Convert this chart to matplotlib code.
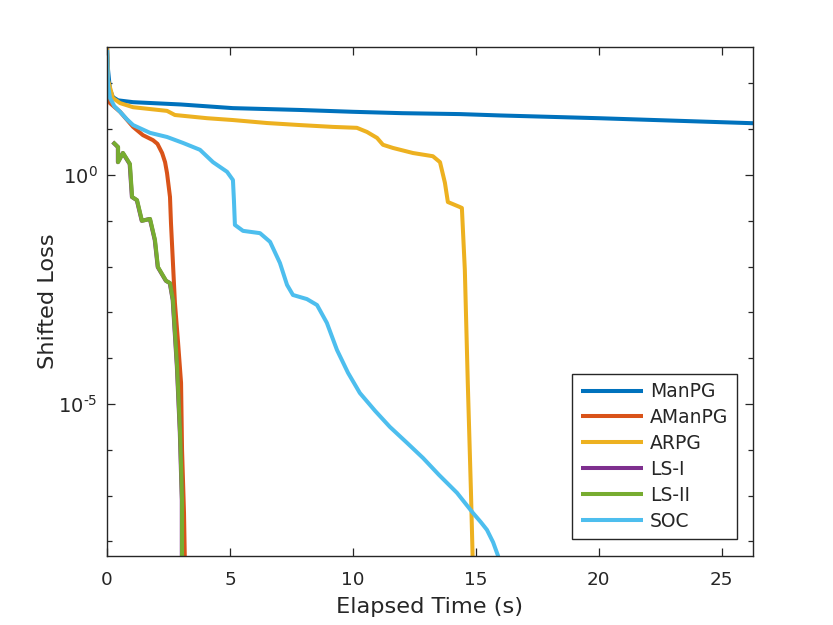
import numpy as np
import matplotlib
matplotlib.use('Agg')
import matplotlib.pyplot as plt
from matplotlib.ticker import NullFormatter

# log10 of shifted loss
manpg_t = [0, 0.04, 0.12, 0.24, 0.45, 1.06, 3.0, 5.12, 7.85, 10.0, 12.0, 14.35, 16.0, 20.0, 24.0, 26.3]
manpg_y = [2.79, 2.3, 1.86, 1.7, 1.63, 1.59, 1.54, 1.46, 1.42, 1.38, 1.35, 1.33, 1.3, 1.24, 1.17, 1.13]

amanpg_t = [0, 0.04, 0.12, 0.53, 1.06, 1.46, 1.87, 2.05, 2.24, 2.36, 2.44, 2.56, 2.60, 2.68, 2.76, 2.89, 3.01,
            3.05, 3.13, 3.17]
amanpg_y = [2.79, 1.86, 1.57, 1.38, 1.05, 0.87, 0.76, 0.68, 0.48, 0.28, 0.04, -0.48, -1.05, -1.92, -2.79, -3.67,
            -4.54, -6.0, -7.38, -8.6]

arpg_t = [0, 0.04, 0.24, 0.53, 1.06, 2.44, 2.76, 4.07, 5.12, 6.5, 7.85, 9.19, 10.16, 10.57, 10.98, 11.22,
          11.63, 12.44, 13.25, 13.54, 13.74, 13.86, 14.35, 14.43, 14.55, 14.67, 14.80, 14.88]
arpg_y = [2.79, 2.07, 1.68, 1.57, 1.48, 1.40, 1.31, 1.24, 1.20, 1.135, 1.09, 1.05, 1.03, 0.94, 0.81, 0.66,
          0.59, 0.48, 0.41, 0.28, -0.17, -0.59, -0.70, -0.72, -2.07, -4.54, -6.94, -8.6]

lsi_t = [0.23, 0.44, 0.44, 0.64, 0.92, 1.01, 1.21, 1.41, 1.74, 1.94, 2.06, 2.39, 2.55, 2.67, 2.84, 2.96, 3.04, 3.04]
lsi_y = [0.72, 0.61, 0.28, 0.48, 0.24, -0.48, -0.55, -1.0, -0.96, -1.42, -2.01, -2.31, -2.36, -2.73, -4.19, -5.63, -7.10, -8.6]

lsii_t = [0.24, 0.45, 0.45, 0.65, 0.93, 1.02, 1.22, 1.42, 1.75, 1.95, 2.07, 2.40, 2.56, 2.68, 2.85, 2.97, 3.05, 3.05]
lsii_y = [0.72, 0.61, 0.28, 0.48, 0.24, -0.48, -0.55, -1.0, -0.96, -1.42, -2.01, -2.31, -2.36, -2.73, -4.19, -5.63, -7.10, -8.6]

soc_t = [0, 0.04, 0.12, 0.30, 0.53, 0.80, 1.06, 1.75, 2.44, 3.09, 3.78, 4.31, 4.88, 5.12, 5.16, 5.20, 5.53,
         6.22, 6.63, 7.03, 7.32, 7.56, 8.13, 8.54, 8.94, 9.35, 9.80, 10.28, 10.90, 11.50, 12.20, 12.85, 13.50,
         14.23, 14.88, 15.20, 15.45, 15.70, 15.89, 16.06]
soc_y = [2.73, 1.97, 1.68, 1.50, 1.38, 1.22, 1.09, 0.92, 0.83, 0.70, 0.55, 0.28, 0.07, -0.11, -0.55, -1.09, -1.22,
         -1.27, -1.46, -1.92, -2.40, -2.62, -2.71, -2.84, -3.23, -3.82, -4.32, -4.76, -5.15, -5.50, -5.85, -6.18, -6.55,
         -6.94, -7.38, -7.58, -7.75, -8.02, -8.30, -8.6]

series = [
    ('ManPG', manpg_t, manpg_y, '#0072BD'),
    ('AManPG', amanpg_t, amanpg_y, '#D95319'),
    ('ARPG', arpg_t, arpg_y, '#EDB120'),
    ('LS-I', lsi_t, lsi_y, '#7E2F8E'),
    ('LS-II', lsii_t, lsii_y, '#77AC30'),
    ('SOC', soc_t, soc_y, '#4DBEEE'),
]

y_major = [1e-5, 1e0]
y_major_labels = [r'$\mathdefault{10^{\text{-}5}}$', r'$\mathdefault{10^{0}}$']

plt.rcParams['font.family'] = 'DejaVu Sans'
fig = plt.figure(figsize=(8.33, 6.25), dpi=100)
ax = fig.add_axes([0.1285, 0.1104, 0.7755, 0.8144])

for name, t, y, c in series:
    ax.plot(t, 10.0 ** np.array(y), color=c, lw=2.9, label=name,
            solid_joinstyle='round', solid_capstyle='butt')

ax.set_yscale('log')
ax.set_xlim(0, 26.27)
ax.set_ylim(10 ** -8.32, 10 ** 2.795)
ax.set_xticks([0, 5, 10, 15, 20, 25])
ax.set_yticks(y_major, y_major_labels)
ax.set_yticks([10.0 ** k for k in range(-8, 3)], minor=True)
ax.yaxis.set_minor_formatter(NullFormatter())

dark = '#262626'
for s in ax.spines.values():
    s.set_color(dark)
    s.set_linewidth(1.0)
ax.tick_params(which='both', direction='in', top=True, right=True, colors=dark)
ax.tick_params(which='major', length=6, width=0.9)
ax.tick_params(which='minor', length=3.5, width=0.9)
ax.tick_params(axis='x', which='major', pad=10.5, labelsize=13.2)
ax.tick_params(axis='y', which='major', pad=7, labelsize=14)

ax.set_xlabel('Elapsed Time (s)', fontsize=16.2, color=dark, labelpad=6)
ax.set_ylabel('Shifted Loss', fontsize=16.2, color=dark, labelpad=0)

leg = ax.legend(loc='lower right', bbox_to_anchor=(0.975, 0.033), borderaxespad=0,
                fontsize=13.5, handlelength=3.3, handletextpad=0.4, labelspacing=0.37,
                fancybox=False, framealpha=1, edgecolor=dark, borderpad=0.45)
leg.get_frame().set_linewidth(1.0)
for txt in leg.get_texts():
    txt.set_color(dark)

fig.savefig('out.png', dpi=100, facecolor='white')
